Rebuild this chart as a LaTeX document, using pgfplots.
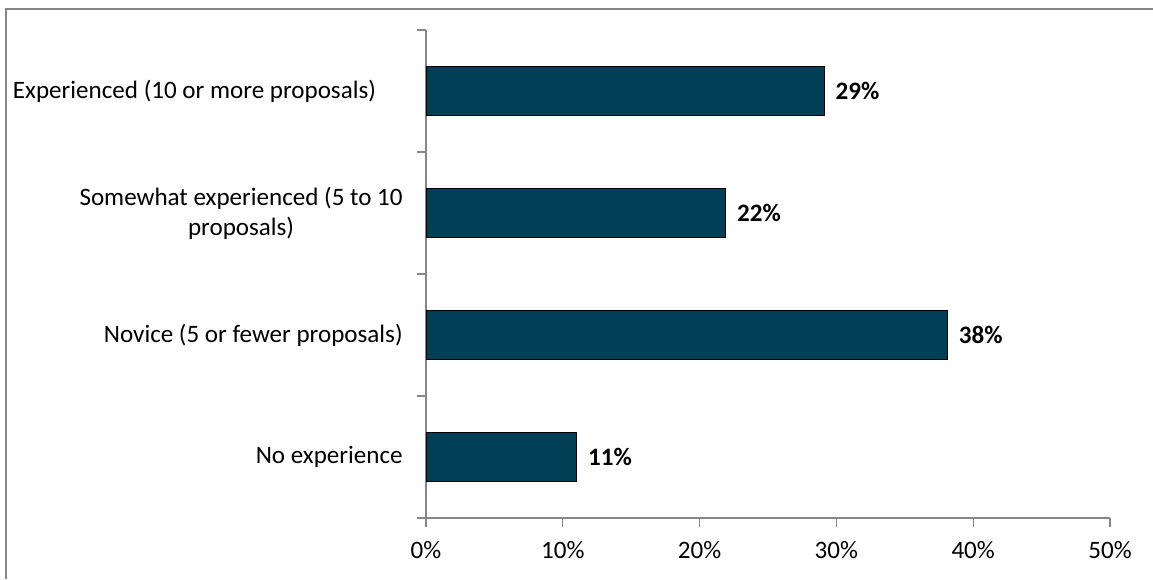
\documentclass[border=0pt]{standalone}
\usepackage{fontspec}
\setmainfont{Carlito}
\usepackage{pgfplots}
\pgfplotsset{compat=1.18}
\definecolor{barc}{RGB}{1,63,87}
\definecolor{axc}{RGB}{134,134,134}
\begin{document}
\begin{tikzpicture}[font=\fontsize{18.8}{22.5}\selectfont]
\path[use as bounding box] (0,0) rectangle (864.75pt,434.25pt);
\draw[axc, line width=1.1pt] (4.5pt,0) -- (4.5pt,427.5pt) -- (864.75pt,427.5pt);
\begin{axis}[
  at={(319.5pt,45.75pt)}, anchor=south west,
  scale only axis, width=513pt, height=366pt,
  xbar, bar width=36.75pt,
  xmin=0, xmax=50, ymin=-0.5, ymax=3.5,
  axis x line*=bottom, axis y line*=left,
  axis line style={axc, line width=1pt, -},
  xtick={0,10,...,50},
  xticklabel={\pgfmathprintnumber{\tick}\%},
  /pgf/number format/assume math mode=true,
  ytick={-0.5,0.5,1.5,2.5,3.5}, yticklabels={},
  extra y ticks={0,1,2,3},
  extra y tick labels={No experience, Novice (5 or fewer proposals), {Somewhat experienced (5 to 10\\proposals)}, {Experienced (10 or more proposals)\rule{20pt}{0pt}}},
  extra y tick style={major tick length=0pt, yticklabel style={align=center, xshift=-14pt}},
  tick style={axc, line width=1pt},
  major tick length=6.75pt, tick align=outside,
  xticklabel style={yshift=-7pt},
  nodes near coords, point meta=explicit symbolic,
  every node near coord/.append style={font=\bfseries\fontsize{18.8}{22.5}\selectfont, anchor=west, xshift=5pt, text=black},
]
\addplot[fill=barc, draw=black, line width=0.8pt] coordinates {
  (11.0,0) [11\%]
  (38.1,1) [38\%]
  (21.9,2) [22\%]
  (29.1,3) [29\%]
};
\end{axis}
\end{tikzpicture}
\end{document}
